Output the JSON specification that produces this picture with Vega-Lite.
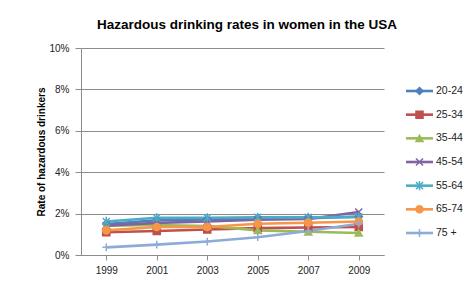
{
  "$schema": "https://vega.github.io/schema/vega-lite/v6.json",
  "background": "white",
  "padding": {"left": 36, "top": 17, "right": 0, "bottom": 0},
  "spacing": 20,
  "title": {"text": "Hazardous drinking rates in women in the USA", "font": "Liberation Sans", "fontSize": 13.5, "fontWeight": "bold", "color": "#000000", "anchor": "middle", "offset": 12, "dx": -3},
  "config": {"view": {"stroke": null}, "font": "Liberation Sans"},
  "datasets": {
    "rates": [
      {"series": "20-24", "year": "1999", "rate": 0.0150},
      {"series": "20-24", "year": "2001", "rate": 0.0168},
      {"series": "20-24", "year": "2003", "rate": 0.0172},
      {"series": "20-24", "year": "2005", "rate": 0.0176},
      {"series": "20-24", "year": "2007", "rate": 0.0178},
      {"series": "20-24", "year": "2009", "rate": 0.0185},
      {"series": "25-34", "year": "1999", "rate": 0.0110},
      {"series": "25-34", "year": "2001", "rate": 0.0116},
      {"series": "25-34", "year": "2003", "rate": 0.0123},
      {"series": "25-34", "year": "2005", "rate": 0.0130},
      {"series": "25-34", "year": "2007", "rate": 0.0133},
      {"series": "25-34", "year": "2009", "rate": 0.0135},
      {"series": "35-44", "year": "1999", "rate": 0.0142},
      {"series": "35-44", "year": "2001", "rate": 0.0145},
      {"series": "35-44", "year": "2003", "rate": 0.0140},
      {"series": "35-44", "year": "2005", "rate": 0.0119},
      {"series": "35-44", "year": "2007", "rate": 0.0112},
      {"series": "35-44", "year": "2009", "rate": 0.0106},
      {"series": "45-54", "year": "1999", "rate": 0.0142},
      {"series": "45-54", "year": "2001", "rate": 0.0155},
      {"series": "45-54", "year": "2003", "rate": 0.0162},
      {"series": "45-54", "year": "2005", "rate": 0.0170},
      {"series": "45-54", "year": "2007", "rate": 0.0174},
      {"series": "45-54", "year": "2009", "rate": 0.0208},
      {"series": "55-64", "year": "1999", "rate": 0.0162},
      {"series": "55-64", "year": "2001", "rate": 0.0180},
      {"series": "55-64", "year": "2003", "rate": 0.0180},
      {"series": "55-64", "year": "2005", "rate": 0.0182},
      {"series": "55-64", "year": "2007", "rate": 0.0182},
      {"series": "55-64", "year": "2009", "rate": 0.0184},
      {"series": "65-74", "year": "1999", "rate": 0.0119},
      {"series": "65-74", "year": "2001", "rate": 0.0135},
      {"series": "65-74", "year": "2003", "rate": 0.0135},
      {"series": "65-74", "year": "2005", "rate": 0.0151},
      {"series": "65-74", "year": "2007", "rate": 0.0156},
      {"series": "65-74", "year": "2009", "rate": 0.0162},
      {"series": " 75 +", "year": "1999", "rate": 0.0037},
      {"series": " 75 +", "year": "2001", "rate": 0.0050},
      {"series": " 75 +", "year": "2003", "rate": 0.0065},
      {"series": " 75 +", "year": "2005", "rate": 0.0086},
      {"series": " 75 +", "year": "2007", "rate": 0.0116},
      {"series": " 75 +", "year": "2009", "rate": 0.0151}
    ],
    "legend": [
      {"series": "20-24"},
      {"series": "25-34"},
      {"series": "35-44"},
      {"series": "45-54"},
      {"series": "55-64"},
      {"series": "65-74"},
      {"series": " 75 +"}
    ]
  },
  "hconcat": [
    {
      "width": 303,
      "height": 207,
      "data": {"name": "rates"},
      "encoding": {
        "x": {
          "field": "year", "type": "ordinal",
          "scale": {"paddingInner": 0, "paddingOuter": 0},
          "axis": {"title": null, "labelAngle": 0, "bandPosition": 0, "labelFont": "Liberation Sans", "labelFontSize": 10, "labelColor": "#222222", "labelPadding": 5, "tickSize": 5, "tickColor": "#8c8c8c", "domainColor": "#8c8c8c", "grid": false}
        },
        "y": {
          "field": "rate", "type": "quantitative",
          "scale": {"domain": [0, 0.1], "nice": false},
          "axis": {"title": "Rate of hazardous  drinkers", "titleFont": "Liberation Sans", "titleFontSize": 10, "titleFontWeight": "bold", "titleColor": "#000000", "titlePadding": 2, "values": [0, 0.02, 0.04, 0.06, 0.08, 0.1], "format": ".0%", "labelFont": "Liberation Sans", "labelFontSize": 10, "labelColor": "#222222", "labelPadding": 6, "tickSize": 6, "tickColor": "#8c8c8c", "domainColor": "#8c8c8c", "grid": true, "gridColor": "#8c8c8c", "gridWidth": 1}
        }
      },
      "layer": [
        {
          "mark": {"type": "line", "strokeWidth": 2.6},
          "encoding": {
            "stroke": {"field": "series", "type": "nominal", "sort": null, "legend": null,
              "scale": {"domain": ["20-24", "25-34", "35-44", "45-54", "55-64", "65-74", " 75 +"], "range": ["#4F81BD", "#C0504D", "#9BBB59", "#8064A2", "#4BACC6", "#F79646", "#8EABD8"]}}
          }
        },
        {
          "mark": {"type": "point", "opacity": 1, "strokeWidth": 1.5},
          "encoding": {
            "fill": {"field": "series", "type": "nominal", "legend": null,
              "scale": {"domain": ["20-24", "25-34", "35-44", "45-54", "55-64", "65-74", " 75 +"], "range": ["#4F81BD", "#C0504D", "#9BBB59", "#8064A2", "#4BACC6", "#F79646", "#8EABD8"]}},
            "stroke": {"field": "series", "type": "nominal", "legend": null},
            "shape": {"field": "series", "type": "nominal", "legend": null,
              "scale": {"domain": ["20-24", "25-34", "35-44", "45-54", "55-64", "65-74", " 75 +"], "range": ["diamond", "square", "triangle-up", "M-1,-1L1,1M-1,1L1,-1", "M-1,-1L1,1M-1,1L1,-1M0,-1.3L0,1.3", "circle", "M-1.1,0L1.1,0M0,-1.1L0,1.1"]}},
            "size": {"value": 50}
          }
        }
      ]
    },
    {
      "width": 27,
      "height": 207,
      "data": {"name": "legend"},
      "encoding": {
        "y": {"field": "series", "type": "nominal", "sort": null, "axis": null,
          "scale": {"type": "point", "padding": 0, "range": [43, 185]}}
      },
      "layer": [
        {
          "mark": {"type": "rule", "strokeWidth": 2.6},
          "encoding": {
            "x": {"datum": 0, "type": "quantitative", "scale": {"domain": [0, 1]}, "axis": null},
            "x2": {"datum": 1},
            "stroke": {"field": "series", "type": "nominal", "legend": null,
              "scale": {"domain": ["20-24", "25-34", "35-44", "45-54", "55-64", "65-74", " 75 +"], "range": ["#4F81BD", "#C0504D", "#9BBB59", "#8064A2", "#4BACC6", "#F79646", "#8EABD8"]}}
          }
        },
        {
          "mark": {"type": "point", "opacity": 1, "strokeWidth": 1.5},
          "encoding": {
            "x": {"datum": 0.5, "type": "quantitative"},
            "fill": {"field": "series", "type": "nominal", "legend": null,
              "scale": {"domain": ["20-24", "25-34", "35-44", "45-54", "55-64", "65-74", " 75 +"], "range": ["#4F81BD", "#C0504D", "#9BBB59", "#8064A2", "#4BACC6", "#F79646", "#8EABD8"]}},
            "stroke": {"field": "series", "type": "nominal", "legend": null},
            "shape": {"field": "series", "type": "nominal", "legend": null,
              "scale": {"domain": ["20-24", "25-34", "35-44", "45-54", "55-64", "65-74", " 75 +"], "range": ["diamond", "square", "triangle-up", "M-1,-1L1,1M-1,1L1,-1", "M-1,-1L1,1M-1,1L1,-1M0,-1.3L0,1.3", "circle", "M-1.1,0L1.1,0M0,-1.1L0,1.1"]}},
            "size": {"value": 50}
          }
        },
        {
          "mark": {"type": "text", "align": "left", "baseline": "middle", "dx": 3, "font": "Liberation Sans", "fontSize": 10.5, "color": "#222222"},
          "encoding": {
            "x": {"datum": 1, "type": "quantitative"},
            "text": {"field": "series"}
          }
        }
      ]
    }
  ]
}
